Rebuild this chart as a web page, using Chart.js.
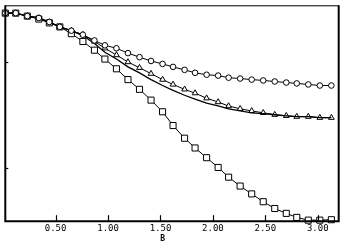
<!DOCTYPE html>
<html>
<head>
<meta charset="utf-8">
<script src="https://cdn.jsdelivr.net/npm/chart.js@4/dist/chart.umd.min.js"></script>
<style>
  html, body { margin: 0; padding: 0; background: #fff; }
  #wrap { width: 344px; height: 243px; }
</style>
</head>
<body>
<div id="wrap"><canvas id="c" width="344" height="243"></canvas></div>
<script>
// ---- data ----
const xValues = [0.02,0.12,0.23,0.34,0.44,0.54,0.65,0.76,0.87,0.97,1.08,1.19,1.30,1.41,1.52,1.62,1.73,1.83,1.94,2.05,2.15,2.26,2.37,2.48,2.59,2.70,2.80,2.91,3.02,3.13];
const circleSeries = [0.983,0.983,0.969,0.960,0.941,0.918,0.900,0.881,0.854,0.831,0.817,0.794,0.775,0.757,0.743,0.729,0.715,0.701,0.692,0.688,0.678,0.674,0.669,0.665,0.660,0.655,0.651,0.646,0.641,0.641];
const triangleSeries = [0.983,0.983,0.969,0.960,0.941,0.918,0.900,0.881,0.849,0.817,0.785,0.752,0.725,0.697,0.669,0.646,0.623,0.605,0.581,0.563,0.544,0.531,0.521,0.512,0.503,0.498,0.494,0.494,0.489,0.489];
const plainSeries = [0.983,0.983,0.969,0.960,0.941,0.918,0.900,0.877,0.840,0.798,0.766,0.729,0.701,0.669,0.641,0.618,0.595,0.577,0.558,0.545,0.531,0.521,0.512,0.508,0.503,0.498,0.494,0.494,0.489,0.489];
const squareSeries = [0.983,0.983,0.969,0.955,0.937,0.918,0.886,0.849,0.808,0.766,0.720,0.669,0.623,0.572,0.517,0.452,0.392,0.346,0.300,0.254,0.208,0.166,0.129,0.092,0.060,0.037,0.018,0.005,0.005,0.007];
const xTickValues = [0.5, 1.0, 1.5, 2.0, 2.5, 3.0];
const yTickValues = [0.25, 0.75];
const xAxisTitle = "B";

function pts(ys) { return xValues.map((x, i) => ({ x: x, y: ys[i] })); }

const framePlugin = {
  id: 'frame',
  afterDraw(chart) {
    const ctx = chart.ctx;
    const a = chart.chartArea;
    const xs = chart.scales.x, ys = chart.scales.y;
    ctx.save();
    ctx.strokeStyle = '#000';
    // frame
    ctx.lineWidth = 2;
    ctx.beginPath();
    ctx.moveTo(a.left, a.top); ctx.lineTo(a.left, a.bottom); ctx.lineTo(a.right, a.bottom); ctx.lineTo(a.right, a.top);
    ctx.stroke();
    ctx.lineWidth = 1;
    ctx.beginPath();
    ctx.moveTo(a.left, a.top + 0.5); ctx.lineTo(a.right, a.top + 0.5);
    ctx.stroke();
    // inward ticks
    ctx.lineWidth = 1.2;
    xTickValues.forEach(v => {
      const px = Math.round(xs.getPixelForValue(v)) + 0.5;
      ctx.beginPath(); ctx.moveTo(px, a.bottom); ctx.lineTo(px, a.bottom - 6); ctx.stroke();
    });
    yTickValues.forEach(v => {
      const py = Math.round(ys.getPixelForValue(v)) + 0.5;
      ctx.beginPath(); ctx.moveTo(a.left, py); ctx.lineTo(a.left + 3, py); ctx.stroke();
    });
    // axis title
    ctx.fillStyle = '#000';
    ctx.font = 'bold 8px "DejaVu Sans Mono"';
    ctx.textAlign = 'center';
    ctx.textBaseline = 'alphabetic';
    ctx.fillText(xAxisTitle, xs.getPixelForValue(1.52), 241);
    ctx.restore();
  }
};

const common = { borderColor: '#000', borderWidth: 1, pointBackgroundColor: '#fff', pointBorderColor: '#000', pointBorderWidth: 1, tension: 0, clip: false };

new Chart(document.getElementById('c'), {
  type: 'line',
  data: {
    datasets: [
      Object.assign({ label: 'circles', data: pts(circleSeries), pointStyle: 'circle', pointRadius: 2.8 }, common),
      Object.assign({ label: 'line', data: pts(plainSeries), pointRadius: 0 }, common, { borderWidth: 1.3 }),
      Object.assign({ label: 'triangles', data: pts(triangleSeries), pointStyle: 'triangle', pointRadius: 3.3 }, common),
      Object.assign({ label: 'squares', data: pts(squareSeries), pointStyle: 'rect', pointRadius: 4.3 }, common)
    ]
  },
  options: {
    responsive: false,
    animation: false,
    devicePixelRatio: 1,
    layout: { padding: { left: 3, right: 4, top: 3, bottom: 7 } },
    plugins: { legend: { display: false }, tooltip: { enabled: false } },
    scales: {
      x: {
        type: 'linear', min: 0.02, max: 3.2,
        afterBuildTicks(scale) { scale.ticks = xTickValues.map(v => ({ value: v })); },
        grid: { display: false, drawTicks: false },
        border: { display: false },
        ticks: {
          padding: 2, color: '#000', maxRotation: 0, autoSkip: false,
          font: { family: '"DejaVu Sans Mono"', size: 9 },
          callback: v => Number(v).toFixed(2)
        }
      },
      y: {
        type: 'linear', min: 0, max: 1.02, display: false
      }
    }
  },
  plugins: [framePlugin]
});
</script>
</body>
</html>
